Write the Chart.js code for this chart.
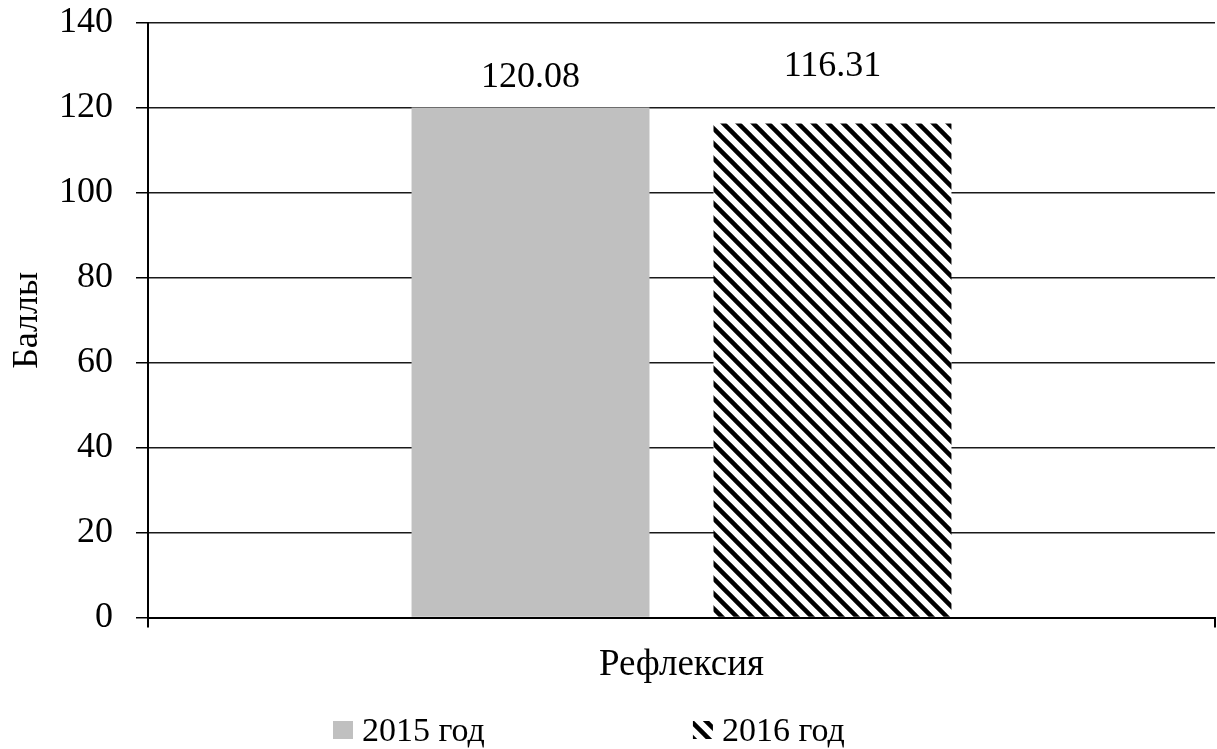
<!DOCTYPE html>
<html>
<head>
<meta charset="utf-8">
<script src="https://cdn.jsdelivr.net/npm/chart.js@4/dist/chart.umd.min.js"></script>
<style>
  html, body { margin: 0; padding: 0; background: #fff; }
  #wrap { width: 1217px; height: 749px; position: relative; }
</style>
</head>
<body>
<div id="wrap"><canvas id="c"></canvas></div>
<script>
// ---- data ----
const categories = ['Рефлексия'];
const seriesLabels = ['2015 год', '2016 год'];
const values2015 = [120.08];
const values2016 = [116.31];
const yAxisTitle = 'Баллы';
const yMin = 0;
const yMax = 140;
const yStep = 20;

// ---- styles ----
const FONT = '"Liberation Serif", "Times New Roman", serif';
const GRAY = '#c0c0c0';

function makeHatch() {
  const s = 15;
  const c = document.createElement('canvas');
  c.width = s; c.height = s;
  const g = c.getContext('2d');
  g.fillStyle = '#fff';
  g.fillRect(0, 0, s, s);
  g.strokeStyle = '#000';
  g.lineWidth = 4.5;
  g.lineCap = 'butt';
  for (let k = -1; k <= 1; k++) {
    g.beginPath();
    g.moveTo(k * s - 2, -2);
    g.lineTo(k * s + s + 2, s + 2);
    g.stroke();
  }
  return g.createPattern(c, 'repeat');
}
const ctx = document.getElementById('c').getContext('2d');
const hatch = makeHatch();

// value labels above bars
const valueLabels = {
  id: 'valueLabels',
  afterDatasetsDraw(chart, args, opts) {
    const c = chart.ctx;
    c.save();
    c.font = opts.size + 'px ' + FONT;
    c.fillStyle = '#000';
    c.textAlign = 'center';
    c.textBaseline = 'alphabetic';
    chart.data.datasets.forEach((ds, di) => {
      const meta = chart.getDatasetMeta(di);
      meta.data.forEach((el, i) => {
        const v = ds.data[i];
        c.fillText(v.toFixed(2), el.x, el.y - opts.offsets[di]);
      });
    });
    c.restore();
  }
};

// bottom legend
const bottomLegend = {
  id: 'bottomLegend',
  afterDraw(chart, args, opts) {
    const c = chart.ctx;
    c.save();
    c.font = opts.size + 'px ' + FONT;
    c.textBaseline = 'middle';
    c.textAlign = 'left';
    let x = opts.startX;
    const cy = chart.height - opts.fromBottom;
    chart.data.datasets.forEach((ds) => {
      c.fillStyle = ds.backgroundColor;
      c.fillRect(x, cy - opts.boxH / 2, opts.boxW, opts.boxH);
      const tx = x + opts.boxW + opts.textGap;
      c.fillStyle = '#000';
      c.fillText(ds.label, tx, cy + 2);
      x = tx + c.measureText(ds.label).width + opts.itemGap;
    });
    c.restore();
  }
};

new Chart(ctx, {
  type: 'bar',
  data: {
    labels: categories,
    datasets: [
      { label: seriesLabels[0], data: values2015, backgroundColor: GRAY, borderWidth: 0 },
      { label: seriesLabels[1], data: values2016, backgroundColor: hatch, borderWidth: 0 }
    ]
  },
  plugins: [valueLabels, bottomLegend],
  options: {
    responsive: true,
    maintainAspectRatio: false,
    animation: false,
    devicePixelRatio: 1,
    categoryPercentage: 0.566,
    barPercentage: 0.788,
    layout: { padding: { left: 4, right: 2, top: 23, bottom: 47 } },
    plugins: {
      legend: { display: false },
      tooltip: { enabled: false },
      valueLabels: { size: 36, offsets: [21, 48] },
      bottomLegend: { size: 34, startX: 333, fromBottom: 19, boxW: 20, boxH: 18, textGap: 9, itemGap: 208 }
    },
    scales: {
      x: {
        offset: true,
        grid: { display: true, drawOnChartArea: false, drawTicks: true, tickLength: 10, color: '#000', lineWidth: 2, offset: true },
        border: { display: true, color: '#000', width: 2 },
        ticks: { color: '#000', padding: 15, font: { family: FONT, size: 37 } }
      },
      y: {
        min: yMin,
        max: yMax,
        afterFit(scale) { scale.width = 144; scale.paddingTop = 0; scale.paddingBottom = 0; },
        title: { display: true, text: yAxisTitle, color: '#000', padding: { top: 2, bottom: 2 }, font: { family: FONT, size: 36 } },
        grid: { color: '#1a1a1a', lineWidth: 1.5, tickLength: 12, tickColor: '#000', drawTicks: true },
        border: { display: true, color: '#000', width: 2 },
        ticks: { stepSize: yStep, color: '#000', padding: 23, font: { family: FONT, size: 36 } }
      }
    }
  }
});
</script>
</body>
</html>
